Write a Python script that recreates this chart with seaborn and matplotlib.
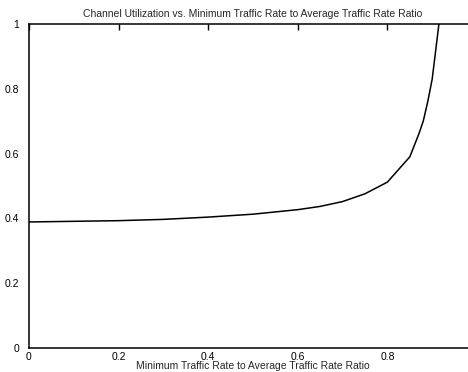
import matplotlib
matplotlib.use("Agg")
import matplotlib.pyplot as plt
import seaborn as sns
import pandas as pd

# Data
ratio = [0.0, 0.1, 0.2, 0.3, 0.4, 0.5, 0.6, 0.65, 0.7, 0.75, 0.8, 0.85, 0.87, 0.88, 0.89, 0.9, 0.915]
utilization = [0.389, 0.391, 0.393, 0.397, 0.404, 0.413, 0.427, 0.437, 0.452, 0.476, 0.512, 0.59, 0.66, 0.70, 0.76, 0.83, 1.0]
x_ticks = [0, 0.2, 0.4, 0.6, 0.8]
x_tick_labels = ["0", "0.2", "0.4", "0.6", "0.8"]
y_ticks = [0, 0.2, 0.4, 0.6, 0.8, 1]
y_tick_labels = ["0", "0.2", "0.4", "0.6", "0.8", "1"]
title = "Channel Utilization vs. Minimum Traffic Rate to Average Traffic Rate Ratio"
xlabel = "Minimum Traffic Rate to Average Traffic Rate Ratio"

sns.set_style("white")
plt.rcParams['font.family'] = ['Liberation Sans', 'DejaVu Sans']

df = pd.DataFrame({"ratio": ratio, "util": utilization})

fig = plt.figure(figsize=(4.68, 3.72), dpi=100)
ax = fig.add_axes([29/468, (372-348)/372, (477-29)/468, (348-24)/372])
sns.lineplot(data=df, x="ratio", y="util", ax=ax, color="black", linewidth=1.1, sort=False)

ax.set_xlim(0, 1)
ax.set_ylim(0, 1)
ax.set_xticks(x_ticks)
ax.set_xticklabels(x_tick_labels)
ax.set_yticks(y_ticks)
ax.set_yticklabels(y_tick_labels)
for s in ax.spines.values():
    s.set_color("black")
    s.set_linewidth(1.1)
ax.tick_params(direction="in", length=4, width=1, top=True, right=True,
               labelsize=7.5, colors="black", pad=7)
ax.tick_params(axis="x", pad=3)
ax.set_title(title, fontsize=7.5, pad=5)
ax.set_xlabel(xlabel, fontsize=7.5, labelpad=-1)
ax.set_ylabel("")

fig.savefig("out.png", dpi=100, facecolor="white")
